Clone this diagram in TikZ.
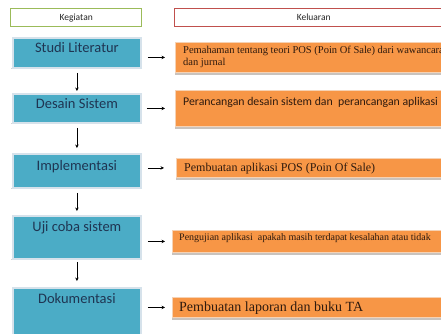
\documentclass[tikz,border=0pt]{standalone}
\usepackage{fontspec}
\setmainfont{Liberation Serif}
\newfontfamily\calfont{Carlito}
\usetikzlibrary{arrows.meta}
\definecolor{kblue}{HTML}{4BACC6}
\definecolor{kblueedge}{HTML}{D6E2EB}
\definecolor{korange}{HTML}{F79646}
\definecolor{korangeedge}{HTML}{F6D2B4}
\definecolor{kgreen}{HTML}{9BBB59}
\definecolor{kred}{HTML}{C0504D}
\definecolor{kbluetext}{HTML}{1F3552}
\definecolor{korangetext}{HTML}{2E1A0E}
\definecolor{kshadow}{HTML}{C9C3BE}
\tikzset{
  hdr/.style={rectangle, line width=1.4pt, fill=white, anchor=north west,
    minimum height=18pt, inner sep=0pt, font=\calfont\fontsize{9.5}{11}\selectfont, text=black!85},
  bluebox/.style={rectangle, fill=kblue, draw=kblueedge, line width=1.8pt,
    anchor=north west, minimum width=128pt, inner sep=0pt},
  bluetext/.style={anchor=base, inner sep=0pt, text=kbluetext,
    font=\calfont\fontsize{14.5}{16}\selectfont},
  orangebox/.style={rectangle, fill=korange, draw=korangeedge, line width=0.8pt,
    anchor=north west, minimum width=290pt, inner sep=0pt},
  orangetext/.style={anchor=base west, inner sep=0pt, text=korangetext, align=left},
  flow/.style={line width=0.6pt, black, -{Stealth[length=3.5pt,width=3.5pt]}},
  shadowbar/.style={fill=kshadow, draw=none}
}
\begin{document}
\begin{tikzpicture}[x=1pt,y=-1pt]
\useasboundingbox (0,0) rectangle (441,333);
\clip (0,0) rectangle (441,333);

% headers
\node[hdr, draw=kgreen, minimum width=131pt] (h1) at (10,8) {Kegiatan};
\node[hdr, draw=kred, minimum width=278pt] (h2) at (174,8) {Keluaran};

% blue shadows
\foreach \y/\h in {37/30, 93/29, 153/34, 215/43, 287/50}{
  \fill[kshadow!70] (11,\y+\h+1.2) rectangle (142,\y+\h+2.4);
}

% blue boxes (kegiatan)
\node[bluebox, minimum height=30pt] (s1) at (12,37) {};
\node[bluebox, minimum height=29pt] (s2) at (12,93) {};
\node[bluebox, minimum height=34pt] (s3) at (12,153) {};
\node[bluebox, minimum height=43pt] (s4) at (12,215) {};
\node[bluebox, minimum height=50pt] (s5) at (12,287) {};

\node[bluetext] (t1) at ([yshift=-15.5pt]s1.north) {Studi Literatur};
\node[bluetext] (t2) at ([yshift=-15.5pt]s2.north) {Desain Sistem};
\node[bluetext] (t3) at ([yshift=-17pt]s3.north) {Implementasi};
\node[bluetext] (t4) at ([yshift=-16.5pt]s4.north) {Uji coba sistem};
\node[bluetext] (t5) at ([yshift=-16pt]s5.north) {Dokumentasi};

% orange shadows
\foreach \y/\x/\h in {42/175/30, 90/175/36, 158/176/19, 230/172/22, 297/172/20}{
  \fill[kshadow] (\x,\y+\h+1) rectangle (450,\y+\h+3);
}

% orange boxes (keluaran)
\node[orangebox, minimum height=30pt] (o1) at (175,42) {};
\node[orangebox, minimum height=36pt] (o2) at (175,90) {};
\node[orangebox, minimum height=19pt] (o3) at (176,158) {};
\node[orangebox, minimum height=22pt] (o4) at (172,230) {};
\node[orangebox, minimum height=20pt] (o5) at (172,297) {};

\node[orangetext, font=\fontsize{10.5}{12}\selectfont] (u1) at ([xshift=8pt,yshift=-23.5pt]o1.north west)
  {Pemahaman tentang teori POS (Poin Of Sale) dari wawancara\\dan jurnal};
\node[orangetext, font=\calfont\fontsize{11.8}{13}\selectfont] (u2) at ([xshift=8pt,yshift=-15.7pt]o2.north west)
  {Perancangan desain sistem dan\ \ perancangan aplikasi};
\node[orangetext, font=\fontsize{12}{13}\selectfont] (u3) at ([xshift=8pt,yshift=-13pt]o3.north west)
  {Pembuatan aplikasi POS (Poin Of Sale)};
\node[orangetext, font=\fontsize{10}{11}\selectfont] (u4) at ([xshift=7pt,yshift=-10.5pt]o4.north west)
  {Pengujian aplikasi\ \ apakah masih terdapat kesalahan atau tidak};
\node[orangetext, font=\fontsize{14}{16}\selectfont] (u5) at ([xshift=7pt,yshift=-14.8pt]o5.north west)
  {Pembuatan laporan dan buku TA};

% vertical flow
\draw[flow, shorten <=4pt, shorten >=2pt] (s1.south) -- (s2.north);
\draw[flow, shorten <=4pt, shorten >=5pt] (s2.south) -- (s3.north);
\draw[flow, shorten <=4pt, shorten >=4pt] (s3.south) -- (s4.north);
\draw[flow, shorten <=2pt, shorten >=6pt] (s4.south) -- (s5.north);

% horizontal flow
\draw[flow, shorten <=6pt, shorten >=10pt] (s1.east |- o1.west) -- (o1.west);
\draw[flow, shorten <=5pt, shorten >=10pt] (s2.east |- o2.west) -- (o2.west);
\draw[flow, shorten <=6pt, shorten >=12pt] (s3.east |- o3.west) -- (o3.west);
\draw[flow, shorten <=6pt, shorten >=7pt] (s4.east |- o4.west) -- (o4.west);
\draw[flow, shorten <=6pt, shorten >=7pt] (s5.east |- o5.west) -- (o5.west);
\end{tikzpicture}
\end{document}
